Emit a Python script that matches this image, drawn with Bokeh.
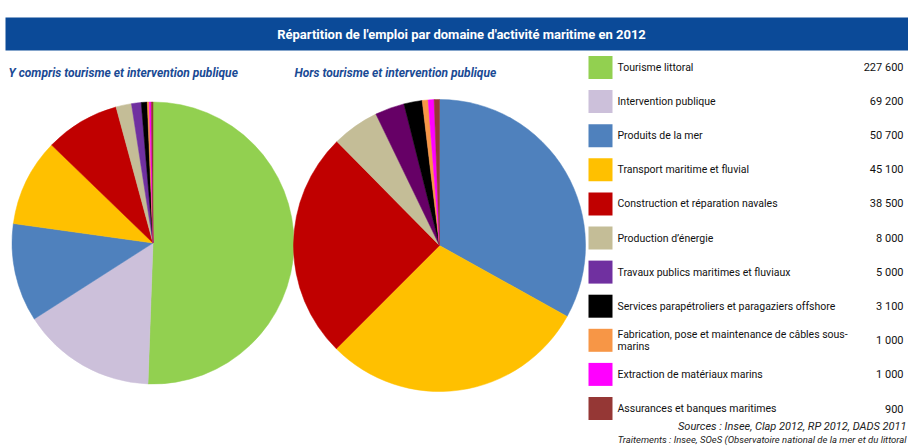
import math
from bokeh.plotting import figure
from bokeh.models import ColumnDataSource, Range1d
from bokeh.core.properties import value
from bokeh.embed import file_html
from bokeh.resources import INLINE

# ---- data ----
categories = [
    "Tourisme littoral",
    "Intervention publique",
    "Produits de la mer",
    "Transport maritime et fluvial",
    "Construction et réparation navales",
    "Production d\u2019énergie",
    "Travaux publics maritimes et fluviaux",
    "Services parapétroliers et paragaziers offshore",
    "Fabrication, pose et maintenance de câbles sous-marins",
    "Extraction de matériaux marins",
    "Assurances et banques maritimes",
]
emplois = [227600, 69200, 50700, 45100, 38500, 8000, 5000, 3100, 1000, 1000, 900]
value_labels = ["227 600", "69 200", "50 700", "45 100", "38 500", "8 000",
                "5 000", "3 100", "1 000", "1 000", "900"]
colors_left = ["#92D050", "#CCC0DA", "#4F81BD", "#FFC000", "#C00000", "#C4BD97",
               "#7030A0", "#000000", "#F79646", "#FF00FF", "#953735"]
colors_right = ["#4F81BD", "#FFC000", "#C00000", "#C4BD97",
                "#660066", "#000000", "#F79646", "#FF00FF", "#953735"]
excluded = ["Tourisme littoral", "Intervention publique"]

title_text = "Répartition de l'emploi par domaine d'activité maritime en 2012"
sub_left = "Y compris tourisme et intervention publique"
sub_right = "Hors tourisme et intervention publique"
source1 = "Sources : Insee, Clap 2012, RP 2012, DADS 2011"
source2 = "Traitements : Insee, SOeS (Observatoire national de la mer et du littoral"

W, H = 908, 448
def X(sx):
    return sx
def Y(sy):
    return H - sy

FONT = "Roboto"

p = figure(width=W, height=H, x_range=Range1d(0, W), y_range=Range1d(0, H),
           toolbar_location=None, output_backend="svg", min_border=0)
p.axis.visible = False
p.grid.visible = False
p.outline_line_color = None
p.background_fill_color = "white"
p.border_fill_color = "white"

# title band
p.quad(left=[X(5)], right=[X(910)], bottom=[Y(50)], top=[Y(17)],
       fill_color="#0B4A98", line_color=None)
p.text(x=[X(461)], y=[Y(34)], text=[title_text], text_color="white",
       text_font=value(FONT), text_font_style="bold",
       text_font_size="13px", text_align="center", text_baseline="middle")

# subtitles
p.text(x=[X(8), X(294)], y=[Y(72), Y(72)], text=[sub_left, sub_right],
       text_color="#1A4A94", text_font=value(FONT),
       text_font_style="bold italic", text_font_size="12px",
       text_align="left", text_baseline="middle")

def pie(vals, cols, cx, cy, r):
    tot = float(sum(vals))
    starts, ends = [], []
    acc = 0.0
    for v in vals:
        starts.append(math.pi / 2 - 2 * math.pi * acc / tot)
        acc += v
        ends.append(math.pi / 2 - 2 * math.pi * acc / tot)
    src = ColumnDataSource(dict(start=starts, end=ends, color=cols))
    p.wedge(x=cx, y=cy, radius=r, start_angle="start", end_angle="end",
            direction="clock", fill_color="color", line_color="color",
            line_width=0.5, source=src)

pie(emplois, colors_left, X(152.5), Y(242.5), 141)
right_vals = [v for c, v in zip(categories, emplois) if c not in excluded]
pie(right_vals, colors_right, X(439), Y(245), 146)

# legend
n = len(categories)
ys = [Y(67 + i * 34.1) for i in range(n)]
leg = ColumnDataSource(dict(y=ys, color=colors_left, label=categories, val=value_labels))
p.rect(x=X(600), y="y", width=24, height=23, fill_color="color", line_color=None, source=leg)

single = [i for i in range(n) if i != 8]
leg1 = ColumnDataSource(dict(y=[ys[i] for i in single], label=[categories[i] for i in single]))
p.text(x=X(617), y="y", text="label", source=leg1, text_color="#111111",
       text_font=value(FONT), text_font_size="10.5px",
       text_align="left", text_baseline="middle")
# wrapped label (two lines)
p.text(x=[X(617), X(617)], y=[ys[8] + 6, ys[8] - 6.5],
       text=["Fabrication, pose et maintenance de câbles sous-", "marins"],
       text_color="#111111", text_font=value(FONT), text_font_size="10.5px",
       text_align="left", text_baseline="middle")
p.text(x=X(903), y="y", text="val", source=leg, text_color="#111111",
       text_font=value(FONT), text_font_size="11px",
       text_align="right", text_baseline="middle")

# sources
p.text(x=[X(906)], y=[Y(426)], text=[source1], text_color="#222222",
       text_font=value(FONT), text_font_style="italic", text_font_size="11px",
       text_align="right", text_baseline="middle")
p.text(x=[X(906)], y=[Y(438.5)], text=[source2], text_color="#222222",
       text_font=value(FONT), text_font_style="italic", text_font_size="9.5px",
       text_align="right", text_baseline="middle")

open("out.html", "w").write(file_html(p, INLINE))
